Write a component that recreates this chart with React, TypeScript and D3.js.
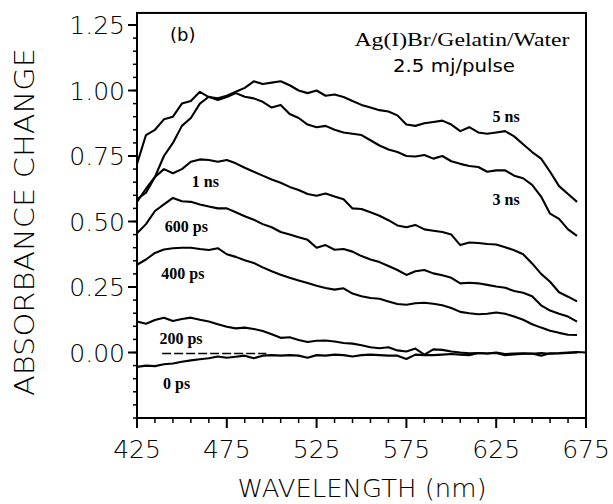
import React from "react";
import * as d3 from "d3";

const WL = d3.range(425, 671, 5);
const WL_ZERO = [...WL, 675];

const NS5 = [0.72,0.83,0.85,0.89,0.90,0.95,0.96,0.995,0.975,0.97,0.98,0.995,1.01,1.035,1.025,1.03,1.035,1.02,1.0,0.99,1.0,0.98,0.985,0.975,0.96,0.945,0.935,0.925,0.92,0.905,0.87,0.865,0.875,0.88,0.885,0.87,0.845,0.86,0.84,0.835,0.84,0.845,0.825,0.795,0.765,0.74,0.69,0.635,0.605,0.575];
const NS3 = [0.585,0.61,0.67,0.75,0.80,0.865,0.895,0.95,0.976,0.964,0.975,0.99,0.976,0.97,0.957,0.935,0.945,0.91,0.895,0.87,0.86,0.865,0.85,0.84,0.835,0.83,0.81,0.79,0.775,0.765,0.75,0.748,0.754,0.74,0.75,0.73,0.72,0.712,0.708,0.69,0.695,0.695,0.675,0.665,0.64,0.595,0.53,0.51,0.47,0.445];
const NS1 = [0.575,0.625,0.67,0.70,0.684,0.70,0.728,0.737,0.735,0.728,0.735,0.722,0.705,0.69,0.675,0.66,0.648,0.632,0.62,0.605,0.598,0.607,0.595,0.585,0.55,0.548,0.535,0.522,0.505,0.485,0.478,0.487,0.47,0.465,0.46,0.45,0.41,0.42,0.418,0.414,0.412,0.402,0.39,0.375,0.34,0.30,0.27,0.23,0.213,0.195];
const PS600 = [0.455,0.49,0.54,0.565,0.59,0.577,0.575,0.565,0.557,0.55,0.55,0.535,0.52,0.507,0.49,0.478,0.46,0.45,0.44,0.43,0.40,0.41,0.392,0.395,0.385,0.368,0.355,0.345,0.33,0.315,0.296,0.31,0.315,0.302,0.295,0.285,0.264,0.266,0.264,0.258,0.252,0.247,0.235,0.228,0.215,0.18,0.16,0.148,0.137,0.118];
const PS400 = [0.335,0.355,0.38,0.393,0.398,0.40,0.40,0.395,0.391,0.398,0.375,0.365,0.352,0.342,0.325,0.31,0.297,0.285,0.275,0.265,0.255,0.246,0.24,0.245,0.225,0.215,0.208,0.205,0.195,0.185,0.182,0.188,0.19,0.186,0.18,0.17,0.155,0.15,0.146,0.148,0.153,0.148,0.137,0.125,0.108,0.095,0.083,0.075,0.068,0.067];
const PS200 = [0.118,0.11,0.124,0.133,0.12,0.128,0.133,0.125,0.118,0.108,0.098,0.092,0.095,0.09,0.082,0.07,0.056,0.058,0.048,0.04,0.045,0.046,0.042,0.036,0.034,0.028,0.02,0.016,0.02,0.008,0.004,0.015,-0.008,0.012,0.01,0.004,0.0,-0.003,-0.002,-0.004,0.0,-0.006,-0.004,-0.003,-0.005,-0.002,-0.005,-0.004,-0.002,0.0];
const PS0 = [-0.055,-0.05,-0.052,-0.045,-0.042,-0.035,-0.03,-0.026,-0.022,-0.015,-0.02,-0.016,-0.012,-0.022,-0.012,-0.01,-0.012,-0.01,-0.012,-0.02,-0.01,-0.012,-0.008,-0.01,-0.015,-0.01,-0.008,-0.01,-0.012,-0.012,-0.025,-0.008,-0.01,-0.01,-0.008,-0.006,-0.008,-0.01,-0.002,-0.004,-0.002,-0.01,-0.007,-0.005,-0.004,-0.012,-0.003,-0.002,0.0,0.002,0.0];

const SERIES = [
  { name: "5 ns", wl: WL, v: NS5 },
  { name: "3 ns", wl: WL, v: NS3 },
  { name: "1 ns", wl: WL, v: NS1 },
  { name: "600 ps", wl: WL, v: PS600 },
  { name: "400 ps", wl: WL, v: PS400 },
  { name: "200 ps", wl: WL, v: PS200 },
  { name: "0 ps", wl: WL_ZERO, v: PS0 },
];

const LABELS = [
  { t: "5 ns", w: 623, v: 0.88 },
  { t: "3 ns", w: 623, v: 0.563 },
  { t: "1 ns", w: 455.5, v: 0.632 },
  { t: "600 ps", w: 440.5, v: 0.459 },
  { t: "400 ps", w: 438.5, v: 0.28 },
  { t: "200 ps", w: 437.5, v: 0.033 },
  { t: "0 ps", w: 439.5, v: -0.14 },
];

const X_TICKS = [425, 475, 525, 575, 625, 675];
const X_MINOR = d3.range(435, 675, 10);
const Y_TICKS = [0, 0.25, 0.5, 0.75, 1.0, 1.25];
const Y_MINOR = d3.range(-0.25, 1.2501, 0.05);
const Y_TOP = 1.296;
const DASH_WL = [439, 497];

export default function App() {
  const x = d3.scaleLinear().domain([425, 675]).range([137, 586]);
  const y = d3.scaleLinear().domain([-0.25, 1.25]).range([418, 25]);
  const sans = "'DejaVu Sans', sans-serif";
  const serif = "'Liberation Serif', 'Times New Roman', serif";
  const line = (wl: number[]) =>
    d3.line<number>().x((_, i) => x(wl[i])).y((d) => y(d));
  const x0 = x(425), x1 = x(675), yb = y(-0.25), yt = y(Y_TOP);
  return (
    <svg width={613} height={504} style={{ position: "absolute", left: 0, top: 0, background: "#fff" }}>
      <rect x={0} y={0} width={613} height={504} fill="#fff" />
      {SERIES.map((s) => (
        <path key={s.name} d={line(s.wl)(s.v) || ""} fill="none" stroke="#000" strokeWidth={2.1} strokeLinejoin="round" />
      ))}
      <line x1={x(DASH_WL[0])} x2={x(DASH_WL[1])} y1={y(-0.004)} y2={y(-0.004)} stroke="#000" strokeWidth={1.5} strokeDasharray="9 3" />
      <rect x={x0} y={yt} width={x1 - x0} height={yb - yt} fill="none" stroke="#000" strokeWidth={2} />
      {X_TICKS.map((t) => (
        <g key={"xt" + t}>
          <line x1={x(t)} x2={x(t)} y1={yb} y2={yb + 10} stroke="#000" strokeWidth={2} />
          <text x={x(t)} y={458} textAnchor="middle" fontFamily={sans} fontWeight={300} fontSize={25}>{t}</text>
        </g>
      ))}
      {X_MINOR.filter((t) => !X_TICKS.includes(t)).map((t) => (
        <line key={"xm" + t} x1={x(t)} x2={x(t)} y1={yb} y2={yb + 5} stroke="#000" strokeWidth={1.5} />
      ))}
      {Y_MINOR.map((t) => (
        <line key={"ym" + t} x1={x0 - 4} x2={x0} y1={y(t)} y2={y(t)} stroke="#000" strokeWidth={1.5} />
      ))}
      {Y_TICKS.map((t) => (
        <g key={"yt" + t}>
          <line x1={x0 - 9} x2={x0} y1={y(t)} y2={y(t)} stroke="#000" strokeWidth={2} />
          <text x={125} y={y(t) + 9} textAnchor="end" fontFamily={sans} fontWeight={300} fontSize={25}>{t.toFixed(2)}</text>
        </g>
      ))}
      {LABELS.map((l) => (
        <text key={l.t} x={x(l.w)} y={y(l.v)} fontFamily={serif} fontWeight="bold" fontSize={16}>{l.t}</text>
      ))}
      <text x={170} y={41} fontFamily={sans} fontSize={18}>(b)</text>
      <text x={462} y={46} textAnchor="middle" fontFamily={serif} fontSize={19} textLength={215} lengthAdjust="spacingAndGlyphs">Ag(I)Br/Gelatin/Water</text>
      <text x={454} y={72} textAnchor="middle" fontFamily={sans} fontSize={18} textLength={122} lengthAdjust="spacingAndGlyphs">2.5  mj/pulse</text>
      <text x={362} y={497} textAnchor="middle" fontFamily={sans} fontWeight={300} fontSize={25} textLength={249} lengthAdjust="spacingAndGlyphs">WAVELENGTH (nm)</text>
      <text transform="translate(34,222) rotate(-90)" textAnchor="middle" fontFamily={sans} fontWeight={300} fontSize={26} textLength={348} lengthAdjust="spacingAndGlyphs">ABSORBANCE  CHANGE</text>
    </svg>
  );
}
